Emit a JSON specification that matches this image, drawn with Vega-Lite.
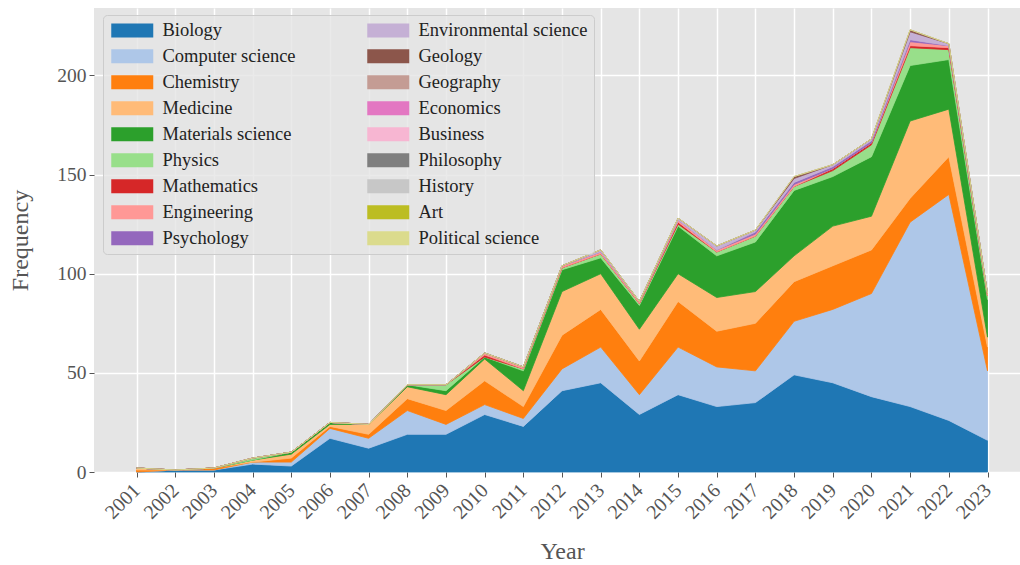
{
"$schema":"https://vega.github.io/schema/vega-lite/v6.json",
"width":926,"height":464,
"autosize":{"type":"none"},
"padding":{"left":94,"top":8,"right":0,"bottom":93},
"background":"white",
"config":{"view":{"fill":"#e5e5e5","stroke":null},"font":"Liberation Serif"},
"datasets":{
"ranks":[{"field":"Biology","rank":0},{"field":"Computer science","rank":1},{"field":"Chemistry","rank":2},{"field":"Medicine","rank":3},{"field":"Materials science","rank":4},{"field":"Physics","rank":5},{"field":"Mathematics","rank":6},{"field":"Engineering","rank":7},{"field":"Psychology","rank":8},{"field":"Environmental science","rank":9},{"field":"Geology","rank":10},{"field":"Political science","rank":17}],
"d":[
{"year":2001,"field":"Biology","count":0},{"year":2002,"field":"Biology","count":1},{"year":2003,"field":"Biology","count":1},{"year":2004,"field":"Biology","count":4},{"year":2005,"field":"Biology","count":3},{"year":2006,"field":"Biology","count":17},{"year":2007,"field":"Biology","count":12},{"year":2008,"field":"Biology","count":19},{"year":2009,"field":"Biology","count":19},{"year":2010,"field":"Biology","count":29},{"year":2011,"field":"Biology","count":23},{"year":2012,"field":"Biology","count":41},{"year":2013,"field":"Biology","count":45},{"year":2014,"field":"Biology","count":29},{"year":2015,"field":"Biology","count":39},{"year":2016,"field":"Biology","count":33},{"year":2017,"field":"Biology","count":35},{"year":2018,"field":"Biology","count":49},{"year":2019,"field":"Biology","count":45},{"year":2020,"field":"Biology","count":38},{"year":2021,"field":"Biology","count":33},{"year":2022,"field":"Biology","count":26},{"year":2023,"field":"Biology","count":16},
{"year":2001,"field":"Computer science","count":0},{"year":2002,"field":"Computer science","count":0},{"year":2003,"field":"Computer science","count":0},{"year":2004,"field":"Computer science","count":1},{"year":2005,"field":"Computer science","count":2},{"year":2006,"field":"Computer science","count":5},{"year":2007,"field":"Computer science","count":5},{"year":2008,"field":"Computer science","count":12},{"year":2009,"field":"Computer science","count":5},{"year":2010,"field":"Computer science","count":5},{"year":2011,"field":"Computer science","count":4},{"year":2012,"field":"Computer science","count":11},{"year":2013,"field":"Computer science","count":18},{"year":2014,"field":"Computer science","count":10},{"year":2015,"field":"Computer science","count":24},{"year":2016,"field":"Computer science","count":20},{"year":2017,"field":"Computer science","count":16},{"year":2018,"field":"Computer science","count":27},{"year":2019,"field":"Computer science","count":37},{"year":2020,"field":"Computer science","count":52},{"year":2021,"field":"Computer science","count":93},{"year":2022,"field":"Computer science","count":114},{"year":2023,"field":"Computer science","count":35},
{"year":2001,"field":"Chemistry","count":1},{"year":2002,"field":"Chemistry","count":0},{"year":2003,"field":"Chemistry","count":1},{"year":2004,"field":"Chemistry","count":0},{"year":2005,"field":"Chemistry","count":2},{"year":2006,"field":"Chemistry","count":1},{"year":2007,"field":"Chemistry","count":2},{"year":2008,"field":"Chemistry","count":6},{"year":2009,"field":"Chemistry","count":7},{"year":2010,"field":"Chemistry","count":12},{"year":2011,"field":"Chemistry","count":6},{"year":2012,"field":"Chemistry","count":17},{"year":2013,"field":"Chemistry","count":19},{"year":2014,"field":"Chemistry","count":17},{"year":2015,"field":"Chemistry","count":23},{"year":2016,"field":"Chemistry","count":18},{"year":2017,"field":"Chemistry","count":24},{"year":2018,"field":"Chemistry","count":20},{"year":2019,"field":"Chemistry","count":22},{"year":2020,"field":"Chemistry","count":22},{"year":2021,"field":"Chemistry","count":12},{"year":2022,"field":"Chemistry","count":19},{"year":2023,"field":"Chemistry","count":12},
{"year":2001,"field":"Medicine","count":1},{"year":2002,"field":"Medicine","count":0},{"year":2003,"field":"Medicine","count":0},{"year":2004,"field":"Medicine","count":1},{"year":2005,"field":"Medicine","count":2},{"year":2006,"field":"Medicine","count":1},{"year":2007,"field":"Medicine","count":5},{"year":2008,"field":"Medicine","count":6},{"year":2009,"field":"Medicine","count":8},{"year":2010,"field":"Medicine","count":11},{"year":2011,"field":"Medicine","count":8},{"year":2012,"field":"Medicine","count":22},{"year":2013,"field":"Medicine","count":18},{"year":2014,"field":"Medicine","count":16},{"year":2015,"field":"Medicine","count":14},{"year":2016,"field":"Medicine","count":17},{"year":2017,"field":"Medicine","count":16},{"year":2018,"field":"Medicine","count":13},{"year":2019,"field":"Medicine","count":20},{"year":2020,"field":"Medicine","count":17},{"year":2021,"field":"Medicine","count":39},{"year":2022,"field":"Medicine","count":24},{"year":2023,"field":"Medicine","count":5},
{"year":2001,"field":"Materials science","count":0},{"year":2002,"field":"Materials science","count":0},{"year":2003,"field":"Materials science","count":0},{"year":2004,"field":"Materials science","count":0},{"year":2005,"field":"Materials science","count":1},{"year":2006,"field":"Materials science","count":1},{"year":2007,"field":"Materials science","count":0},{"year":2008,"field":"Materials science","count":1},{"year":2009,"field":"Materials science","count":2},{"year":2010,"field":"Materials science","count":1},{"year":2011,"field":"Materials science","count":10},{"year":2012,"field":"Materials science","count":11},{"year":2013,"field":"Materials science","count":8},{"year":2014,"field":"Materials science","count":12},{"year":2015,"field":"Materials science","count":24},{"year":2016,"field":"Materials science","count":21},{"year":2017,"field":"Materials science","count":25},{"year":2018,"field":"Materials science","count":33},{"year":2019,"field":"Materials science","count":25},{"year":2020,"field":"Materials science","count":30},{"year":2021,"field":"Materials science","count":28},{"year":2022,"field":"Materials science","count":25},{"year":2023,"field":"Materials science","count":19},
{"year":2001,"field":"Physics","count":0},{"year":2002,"field":"Physics","count":0},{"year":2003,"field":"Physics","count":0},{"year":2004,"field":"Physics","count":1},{"year":2005,"field":"Physics","count":0},{"year":2006,"field":"Physics","count":0},{"year":2007,"field":"Physics","count":0},{"year":2008,"field":"Physics","count":0},{"year":2009,"field":"Physics","count":3},{"year":2010,"field":"Physics","count":0},{"year":2011,"field":"Physics","count":1},{"year":2012,"field":"Physics","count":1},{"year":2013,"field":"Physics","count":2},{"year":2014,"field":"Physics","count":1},{"year":2015,"field":"Physics","count":1},{"year":2016,"field":"Physics","count":2},{"year":2017,"field":"Physics","count":3},{"year":2018,"field":"Physics","count":2},{"year":2019,"field":"Physics","count":3},{"year":2020,"field":"Physics","count":6},{"year":2021,"field":"Physics","count":9},{"year":2022,"field":"Physics","count":5},{"year":2023,"field":"Physics","count":2},
{"year":2001,"field":"Mathematics","count":0},{"year":2002,"field":"Mathematics","count":0},{"year":2003,"field":"Mathematics","count":0},{"year":2004,"field":"Mathematics","count":0},{"year":2005,"field":"Mathematics","count":0},{"year":2006,"field":"Mathematics","count":0},{"year":2007,"field":"Mathematics","count":0},{"year":2008,"field":"Mathematics","count":0},{"year":2009,"field":"Mathematics","count":0},{"year":2010,"field":"Mathematics","count":1},{"year":2011,"field":"Mathematics","count":0},{"year":2012,"field":"Mathematics","count":0},{"year":2013,"field":"Mathematics","count":0},{"year":2014,"field":"Mathematics","count":0},{"year":2015,"field":"Mathematics","count":1},{"year":2016,"field":"Mathematics","count":0},{"year":2017,"field":"Mathematics","count":0},{"year":2018,"field":"Mathematics","count":0},{"year":2019,"field":"Mathematics","count":1},{"year":2020,"field":"Mathematics","count":1},{"year":2021,"field":"Mathematics","count":1},{"year":2022,"field":"Mathematics","count":1},{"year":2023,"field":"Mathematics","count":0},
{"year":2001,"field":"Engineering","count":0},{"year":2002,"field":"Engineering","count":0},{"year":2003,"field":"Engineering","count":0},{"year":2004,"field":"Engineering","count":0},{"year":2005,"field":"Engineering","count":0},{"year":2006,"field":"Engineering","count":0},{"year":2007,"field":"Engineering","count":0},{"year":2008,"field":"Engineering","count":0},{"year":2009,"field":"Engineering","count":0},{"year":2010,"field":"Engineering","count":1},{"year":2011,"field":"Engineering","count":1},{"year":2012,"field":"Engineering","count":1},{"year":2013,"field":"Engineering","count":1},{"year":2014,"field":"Engineering","count":1},{"year":2015,"field":"Engineering","count":1},{"year":2016,"field":"Engineering","count":1},{"year":2017,"field":"Engineering","count":1},{"year":2018,"field":"Engineering","count":1},{"year":2019,"field":"Engineering","count":0},{"year":2020,"field":"Engineering","count":0},{"year":2021,"field":"Engineering","count":2},{"year":2022,"field":"Engineering","count":1},{"year":2023,"field":"Engineering","count":1},
{"year":2001,"field":"Psychology","count":0},{"year":2002,"field":"Psychology","count":0},{"year":2003,"field":"Psychology","count":0},{"year":2004,"field":"Psychology","count":0},{"year":2005,"field":"Psychology","count":0},{"year":2006,"field":"Psychology","count":0},{"year":2007,"field":"Psychology","count":0},{"year":2008,"field":"Psychology","count":0},{"year":2009,"field":"Psychology","count":0},{"year":2010,"field":"Psychology","count":0},{"year":2011,"field":"Psychology","count":0},{"year":2012,"field":"Psychology","count":0},{"year":2013,"field":"Psychology","count":0},{"year":2014,"field":"Psychology","count":0},{"year":2015,"field":"Psychology","count":0},{"year":2016,"field":"Psychology","count":0},{"year":2017,"field":"Psychology","count":1},{"year":2018,"field":"Psychology","count":1},{"year":2019,"field":"Psychology","count":1},{"year":2020,"field":"Psychology","count":1},{"year":2021,"field":"Psychology","count":1},{"year":2022,"field":"Psychology","count":0},{"year":2023,"field":"Psychology","count":0},
{"year":2001,"field":"Environmental science","count":0},{"year":2002,"field":"Environmental science","count":0},{"year":2003,"field":"Environmental science","count":0},{"year":2004,"field":"Environmental science","count":0},{"year":2005,"field":"Environmental science","count":0},{"year":2006,"field":"Environmental science","count":0},{"year":2007,"field":"Environmental science","count":0},{"year":2008,"field":"Environmental science","count":0},{"year":2009,"field":"Environmental science","count":0},{"year":2010,"field":"Environmental science","count":0},{"year":2011,"field":"Environmental science","count":0},{"year":2012,"field":"Environmental science","count":0},{"year":2013,"field":"Environmental science","count":1},{"year":2014,"field":"Environmental science","count":0},{"year":2015,"field":"Environmental science","count":1},{"year":2016,"field":"Environmental science","count":2},{"year":2017,"field":"Environmental science","count":1},{"year":2018,"field":"Environmental science","count":2},{"year":2019,"field":"Environmental science","count":1},{"year":2020,"field":"Environmental science","count":1},{"year":2021,"field":"Environmental science","count":4},{"year":2022,"field":"Environmental science","count":1},{"year":2023,"field":"Environmental science","count":0},
{"year":2001,"field":"Geology","count":0},{"year":2002,"field":"Geology","count":0},{"year":2003,"field":"Geology","count":0},{"year":2004,"field":"Geology","count":0},{"year":2005,"field":"Geology","count":0},{"year":2006,"field":"Geology","count":0},{"year":2007,"field":"Geology","count":0},{"year":2008,"field":"Geology","count":0},{"year":2009,"field":"Geology","count":0},{"year":2010,"field":"Geology","count":0},{"year":2011,"field":"Geology","count":0},{"year":2012,"field":"Geology","count":0},{"year":2013,"field":"Geology","count":0},{"year":2014,"field":"Geology","count":0},{"year":2015,"field":"Geology","count":0},{"year":2016,"field":"Geology","count":0},{"year":2017,"field":"Geology","count":0},{"year":2018,"field":"Geology","count":1},{"year":2019,"field":"Geology","count":0},{"year":2020,"field":"Geology","count":0},{"year":2021,"field":"Geology","count":1},{"year":2022,"field":"Geology","count":0},{"year":2023,"field":"Geology","count":0},
{"year":2001,"field":"Political science","count":0},{"year":2002,"field":"Political science","count":0},{"year":2003,"field":"Political science","count":0},{"year":2004,"field":"Political science","count":0},{"year":2005,"field":"Political science","count":0},{"year":2006,"field":"Political science","count":0},{"year":2007,"field":"Political science","count":0},{"year":2008,"field":"Political science","count":0},{"year":2009,"field":"Political science","count":0},{"year":2010,"field":"Political science","count":0},{"year":2011,"field":"Political science","count":0},{"year":2012,"field":"Political science","count":0},{"year":2013,"field":"Political science","count":0},{"year":2014,"field":"Political science","count":0},{"year":2015,"field":"Political science","count":0},{"year":2016,"field":"Political science","count":0},{"year":2017,"field":"Political science","count":0},{"year":2018,"field":"Political science","count":0},{"year":2019,"field":"Political science","count":0},{"year":2020,"field":"Political science","count":0},{"year":2021,"field":"Political science","count":0},{"year":2022,"field":"Political science","count":0},{"year":2023,"field":"Political science","count":0}
]},
"data":{"name":"d"},
"transform":[{"lookup":"field","from":{"data":{"name":"ranks"},"key":"field","fields":["rank"]}}],
"mark":{"type":"area","strokeWidth":0.8,"opacity":1},
"encoding":{
"x":{"field":"year","type":"quantitative","scale":{"domain":[1999.9,2023.84],"nice":false,"zero":false},
 "axis":{"values":[2001,2002,2003,2004,2005,2006,2007,2008,2009,2010,2011,2012,2013,2014,2015,2016,2017,2018,2019,2020,2021,2022,2023],"format":"d","labelAngle":-45,"labelAlign":"right","labelBaseline":"middle","labelPadding":10,"labelFontSize":20,"labelColor":"#555555","labelFont":"Liberation Serif","grid":true,"gridColor":"#ffffff","gridWidth":1.5,"domain":false,"tickColor":"#555555","tickSize":5,"tickWidth":1,"title":"Year","titleFont":"Liberation Serif","titleFontSize":24,"titleFontWeight":"normal","titleColor":"#555555","titleX":468,"titleY":79,"titleBaseline":"middle","labelFlush":false,"labelOverlap":false}},
"y":{"field":"count","type":"quantitative","stack":"zero","scale":{"domain":[0,234],"nice":false},
 "axis":{"values":[0,50,100,150,200],"labelFontSize":19.5,"labelColor":"#555555","labelFont":"Liberation Serif","labelPadding":3,"grid":true,"gridColor":"#ffffff","gridWidth":1.5,"domain":false,"tickColor":"#555555","tickSize":5,"title":"Frequency","titleFont":"Liberation Serif","titleFontSize":24,"titleFontWeight":"normal","titleColor":"#555555","titleX":-74,"titleY":232,"titleAngle":-90,"titleAlign":"center","titleBaseline":"middle"}},
"order":{"field":"rank","type":"quantitative","sort":"ascending"},
"color":{"field":"field","type":"nominal",
 "scale":{"domain":["Biology","Computer science","Chemistry","Medicine","Materials science","Physics","Mathematics","Engineering","Psychology","Environmental science","Geology","Geography","Economics","Business","Philosophy","History","Art","Political science"],
  "range":["#1f77b4","#aec7e8","#ff7f0e","#ffbb78","#2ca02c","#98df8a","#d62728","#ff9896","#9467bd","#c5b0d5","#8c564b","#c49c94","#e377c2","#f7b6d2","#7f7f7f","#c7c7c7","#bcbd22","#dbdb8d"]},
 "legend":{"orient":"none","legendX":9,"legendY":7,"title":null,"columns":2,
  "values":["Biology","Computer science","Chemistry","Medicine","Materials science","Physics","Mathematics","Engineering","Psychology","Environmental science","Geology","Geography","Economics","Business","Philosophy","History","Art","Political science"],
  "symbolType":"M-1,-1H5V1H-1Z","symbolSize":196,"symbolStrokeWidth":0,"symbolOpacity":1,
  "labelFont":"Liberation Serif","labelFontSize":18.5,"labelColor":"#222222","labelOffset":35,"labelLimit":300,
  "rowPadding":7,"columnPadding":69,"padding":6,
  "fillColor":"rgba(229,229,229,0.8)","strokeColor":"#cccccc","cornerRadius":4}},
"stroke":{"field":"field","type":"nominal",
 "scale":{"domain":["Biology","Computer science","Chemistry","Medicine","Materials science","Physics","Mathematics","Engineering","Psychology","Environmental science","Geology","Geography","Economics","Business","Philosophy","History","Art","Political science"],
  "range":["#1f77b4","#aec7e8","#ff7f0e","#ffbb78","#2ca02c","#98df8a","#d62728","#ff9896","#9467bd","#c5b0d5","#8c564b","#c49c94","#e377c2","#f7b6d2","#7f7f7f","#c7c7c7","#bcbd22","#dbdb8d"]},
 "legend":null}
}
}
